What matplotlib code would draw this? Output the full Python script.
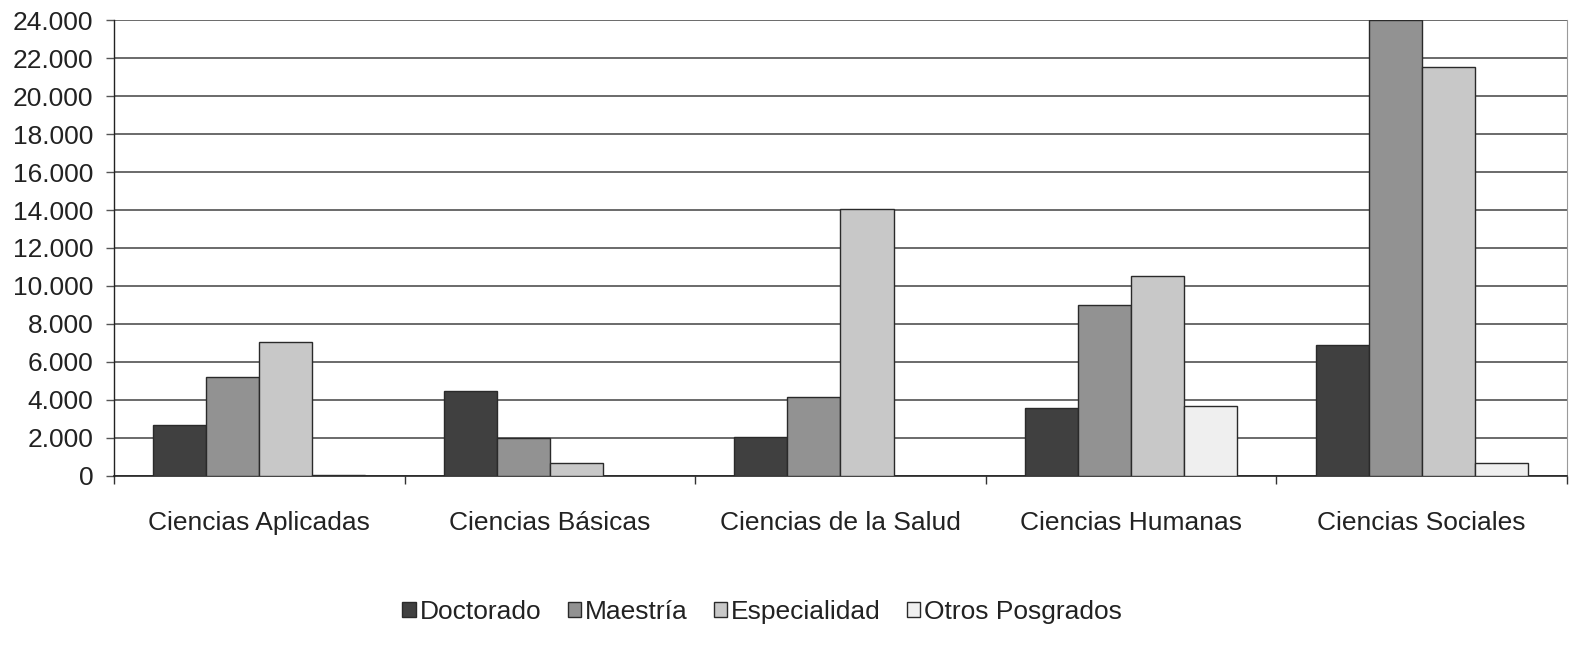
import matplotlib
matplotlib.use("Agg")
import matplotlib.pyplot as plt
import numpy as np
from matplotlib.ticker import FuncFormatter

categories = ["Ciencias Aplicadas", "Ciencias Básicas", "Ciencias de la Salud",
              "Ciencias Humanas", "Ciencias Sociales"]
series_names = ["Doctorado", "Maestría", "Especialidad", "Otros Posgrados"]
doctorado = [2700, 4450, 2050, 3550, 6900]
maestria = [5200, 2000, 4150, 9000, 24000]
especialidad = [7050, 650, 14050, 10550, 21550]
otros = [40, 0, 0, 3700, 650]
y_ticks = list(range(0, 24001, 2000))

colors = ["#404040", "#929292", "#c8c8c8", "#efefef"]
plt.rcParams['font.family'] = ['Liberation Sans', 'DejaVu Sans']
FS = 19

fig = plt.figure(figsize=(15.75, 6.5), dpi=100)
ax = fig.add_axes([0.0724, 0.268, 0.9225, 0.701])

series = [doctorado, maestria, especialidad, otros]
n = len(series)
width = 0.1825
x = np.arange(len(categories))
for i, (vals, name, c) in enumerate(zip(series, series_names, colors)):
    offs = (i - (n - 1) / 2) * width
    ax.bar(x + offs, vals, width, color=c, edgecolor="#2a2a2a", linewidth=1.0,
           label=name, zorder=3)

ax.set_xlim(-0.5, len(categories) - 0.5)
ax.set_ylim(0, 24000)
ax.set_yticks(y_ticks)
ax.yaxis.set_major_formatter(FuncFormatter(lambda v, p: f"{int(v):,}".replace(",", ".")))
ax.yaxis.grid(True, color="#6a6a6a", linewidth=1.4, zorder=0)
ax.set_axisbelow(True)

ax.set_xticks(x)
ax.set_xticklabels(categories, fontsize=FS, color="#222222")
ax.set_xticks(np.arange(-0.5, len(categories), 1.0), minor=True)
ax.tick_params(axis='x', which='major', length=0, pad=25)
ax.tick_params(axis='x', which='minor', length=6, width=1.0, color="#333333", direction='out')
ax.tick_params(axis='y', length=6, width=1.0, color="#555555", labelsize=FS,
               labelcolor="#222222", pad=9)

ax.spines["top"].set_visible(False)
ax.spines["right"].set_color("#9a9a9a")
ax.spines["left"].set_color("#222222")
ax.spines["bottom"].set_color("#222222")
ax.spines["left"].set_linewidth(1.0)
ax.spines["bottom"].set_linewidth(1.2)

leg = fig.legend(loc="center", bbox_to_anchor=(0.484, 0.058), ncol=4, frameon=False,
                 fontsize=FS, handlelength=0.5, handleheight=0.5, handletextpad=0.15,
                 columnspacing=1.0)
for t in leg.get_texts():
    t.set_color("#222222")

fig.savefig("out.png", dpi=100)
